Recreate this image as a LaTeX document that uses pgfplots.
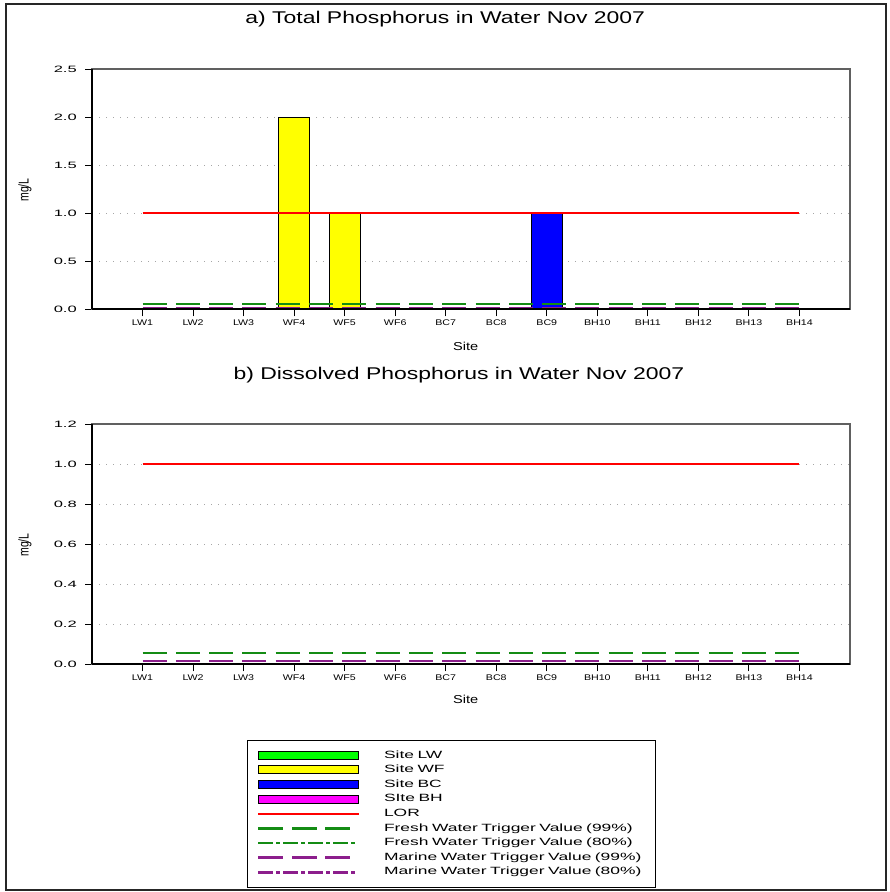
\documentclass[border=0pt]{standalone}
\usepackage{graphicx}
\usepackage{pgfplots}
\pgfplotsset{compat=1.18}
\usepackage{fontspec}
\setmainfont{Liberation Sans}
\newfontfamily\titlefont[FakeStretch=1.35]{Liberation Sans}
\newfontfamily\labelfont[FakeStretch=1.27]{Liberation Sans}
\newfontfamily\xtickfont[FakeStretch=1.3]{Liberation Sans}
\newfontfamily\ytickfont[FakeStretch=1.8]{Liberation Sans}
\newfontfamily\legfont[FakeStretch=1.66]{Liberation Sans}

\definecolor{lwgreen}{RGB}{0,255,0}
\definecolor{wfyellow}{RGB}{255,255,0}
\definecolor{bcblue}{RGB}{0,0,255}
\definecolor{bhmagenta}{RGB}{255,0,255}
\definecolor{fwgreen}{RGB}{20,140,20}
\definecolor{mwpurple}{RGB}{140,30,140}

% line styles of the guideline series
\tikzset{
  lorline/.style={draw=red, line width=1.4bp},
  fw99/.style={draw=fwgreen, line width=1.8bp, dash pattern=on 24bp off 9.3bp},
  mw99/.style={draw=mwpurple, line width=1.8bp, dash pattern=on 24bp off 9.3bp},
}

\pgfplotsset{
  % legend samples, built from filled pieces
  barleg/.style={legend image code/.code={%
    \draw[draw=black, line width=0.8bp, fill=#1] (0bp,-4bp) rectangle (100bp,4bp);}},
  solidleg/.style={legend image code/.code={%
    \fill[#1] (0bp,-0.7bp) rectangle (100bp,0.7bp);}},
  dashleg/.style={legend image code/.code={%
    \foreach \a/\b in {0/24,33.3/57.3,66.6/90.6}
      \fill[#1] (\a bp,-0.8bp) rectangle (\b bp,0.8bp);}},
  dashdotleg/.style={legend image code/.code={%
    \foreach \a/\b in {0/14,18/21,25/39,43/46,50/64,68/71,75/89,93/96}
      \fill[#1] (\a bp,-0.8bp) rectangle (\b bp,0.8bp);}},
  siteaxis/.style={
    scale only axis, width=758bp, height=240.3bp,
    xmin=-1, xmax=14, ymin=0,
    xtick={0,...,13},
    xticklabels={LW1,LW2,LW3,WF4,WF5,WF6,BC7,BC8,BC9,BH10,BH11,BH12,BH13,BH14},
    tick align=outside, tick pos=left,
    major tick length=7bp,
    tick style={black, line width=0.9bp},
    xticklabel style={font=\xtickfont\fontsize{8.2bp}{9bp}\selectfont, inner sep=0pt, yshift=-3bp},
    yticklabel style={font=\ytickfont\fontsize{9.2bp}{10bp}\selectfont, inner sep=0pt, xshift=-8bp,
      /pgf/number format/fixed, /pgf/number format/fixed zerofill, /pgf/number format/precision=1},
    /pgf/number format/assume math mode=true,
    ymajorgrids,
    major grid style={gray!70, line width=0.8bp, dash pattern=on 0.8bp off 6.2bp},
    axis line style={gray!75!black, line width=1.8bp},
    xlabel={Site}, ylabel={\scalebox{1}[1.35]{mg/L}},
    xlabel style={font=\labelfont\fontsize{11.5bp}{13bp}\selectfont, anchor=center},
    ylabel style={font=\fontsize{10.5bp}{12bp}\selectfont, anchor=center},
    title style={font=\titlefont\fontsize{17bp}{20bp}\selectfont, anchor=center},
    after end axis/.code={
      \draw[black, line width=1.3bp] (rel axis cs:0,0) -- (rel axis cs:0,1);
      \draw[black, line width=2.2bp] (rel axis cs:0,0) -- (rel axis cs:1,0);
    },
  },
}

\begin{document}
\begin{tikzpicture}
\path[use as bounding box] (0bp,0bp) rectangle (890bp,-892bp);
\draw[black!85, line width=2bp] (6bp,-3.5bp) rectangle (886bp,-890bp);

% a) Total phosphorus
\begin{axis}[siteaxis,
  at={(92bp,-309.3bp)}, anchor=south west,
  ymax=2.5, ytick={0,0.5,1.0,1.5,2.0,2.5},
  title={a) Total Phosphorus in Water Nov 2007},
  title style={at={(axis description cs:0.466,1.183)}},
  xlabel style={at={(axis description cs:0.493,-0.155)}},
  ylabel style={at={(axis description cs:-0.0884,0.4965)}},
]
\addplot[ybar, bar width=31bp, bar shift=0pt, draw=black, line width=0.8bp, fill=wfyellow]
  coordinates {(3,2.0) (4,1.0)};
\addplot[ybar, bar width=31bp, bar shift=0pt, draw=black, line width=0.8bp, fill=bcblue]
  coordinates {(8,1.0)};
\addplot[lorline] coordinates {(0,1) (13,1)};
\addplot[fw99] coordinates {(0,0.055) (13,0.055)};
\addplot[mw99] coordinates {(0,0.017) (13,0.017)};
\end{axis}

% b) Dissolved phosphorus
\begin{axis}[siteaxis,
  at={(92bp,-664.3bp)}, anchor=south west,
  ymax=1.2, ytick={0,0.2,0.4,0.6,0.8,1.0,1.2},
  title={b) Dissolved Phosphorus in Water Nov 2007},
  title style={at={(axis description cs:0.484,1.179)}},
  xlabel style={at={(axis description cs:0.493,-0.145)}},
  ylabel style={at={(axis description cs:-0.0884,0.4965)}},
  legend cell align=left,
  legend style={
    at={(axis description cs:0.2045,-0.3167)}, anchor=north west,
    draw=black,
    inner xsep=11bp, inner ysep=9.4bp,
    column sep=25bp, row sep=4.1bp,
    font=\legfont\fontsize{10.5bp}{12bp}\selectfont,
    nodes={inner sep=0pt, text height=8bp, text depth=2.5bp, text width=260bp, align=left},
  },
]
\addplot[lorline, forget plot] coordinates {(0,1) (13,1)};
\addplot[fw99, forget plot] coordinates {(0,0.055) (13,0.055)};
\addplot[mw99, forget plot] coordinates {(0,0.017) (13,0.017)};

\addlegendimage{barleg=lwgreen}
\addlegendentry{Site LW}
\addlegendimage{barleg=wfyellow}
\addlegendentry{Site WF}
\addlegendimage{barleg=bcblue}
\addlegendentry{Site BC}
\addlegendimage{barleg=bhmagenta}
\addlegendentry{SIte BH}
\addlegendimage{solidleg=red}
\addlegendentry{LOR}
\addlegendimage{dashleg=fwgreen}
\addlegendentry{Fresh Water Trigger Value (99\%)}
\addlegendimage{dashdotleg=fwgreen}
\addlegendentry{Fresh Water Trigger Value (80\%)}
\addlegendimage{dashleg=mwpurple}
\addlegendentry{Marine Water Trigger Value (99\%)}
\addlegendimage{dashdotleg=mwpurple}
\addlegendentry{Marine Water Trigger Value (80\%)}
\end{axis}
\end{tikzpicture}
\end{document}
